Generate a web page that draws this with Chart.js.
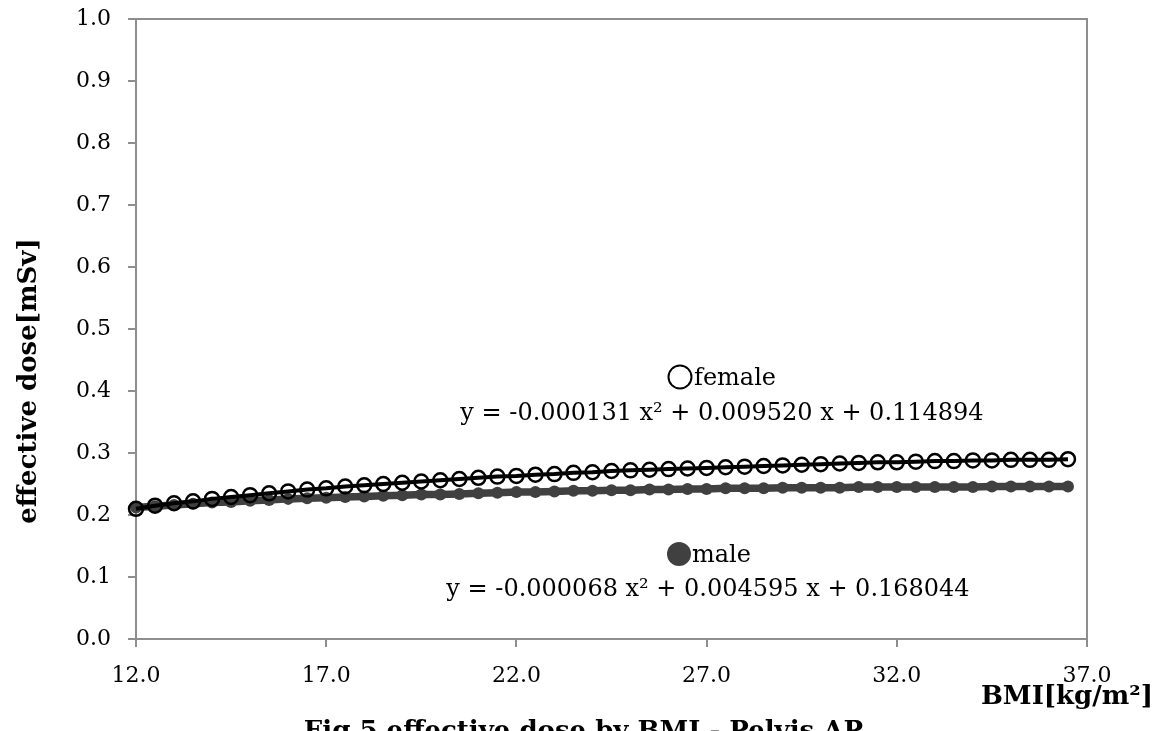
<!DOCTYPE html>
<html>
<head>
<meta charset="utf-8">
<script src="https://cdn.jsdelivr.net/npm/chart.js@4"></script>
<style>
  html, body { margin: 0; padding: 0; background: #fff; }
  #wrap { width: 1163px; height: 731px; }
</style>
</head>
<body>
<div id="wrap"><canvas id="doseChart" width="1163" height="731"></canvas></div>
<script>
// BMI values (x) and effective dose in mSv for each sex
const bmi = [12.0, 12.5, 13.0, 13.5, 14.0, 14.5, 15.0, 15.5, 16.0, 16.5,
             17.0, 17.5, 18.0, 18.5, 19.0, 19.5, 20.0, 20.5, 21.0, 21.5,
             22.0, 22.5, 23.0, 23.5, 24.0, 24.5, 25.0, 25.5, 26.0, 26.5,
             27.0, 27.5, 28.0, 28.5, 29.0, 29.5, 30.0, 30.5, 31.0, 31.5,
             32.0, 32.5, 33.0, 33.5, 34.0, 34.5, 35.0, 35.5, 36.0, 36.5];

const femaleDose = [0.210, 0.215, 0.219, 0.222, 0.226, 0.229, 0.232, 0.235, 0.238, 0.241,
                    0.243, 0.246, 0.248, 0.250, 0.252, 0.254, 0.256, 0.258, 0.260, 0.262,
                    0.263, 0.265, 0.266, 0.268, 0.269, 0.271, 0.272, 0.273, 0.274, 0.275,
                    0.276, 0.277, 0.278, 0.279, 0.280, 0.281, 0.282, 0.283, 0.284, 0.285,
                    0.285, 0.286, 0.287, 0.287, 0.288, 0.288, 0.289, 0.289, 0.289, 0.290];

const maleDose = [0.212, 0.214, 0.216, 0.218, 0.220, 0.221, 0.223, 0.224, 0.226, 0.227,
                  0.228, 0.229, 0.230, 0.231, 0.232, 0.233, 0.233, 0.234, 0.235, 0.236,
                  0.237, 0.237, 0.238, 0.239, 0.239, 0.240, 0.240, 0.241, 0.241, 0.242,
                  0.242, 0.243, 0.243, 0.243, 0.244, 0.244, 0.244, 0.244, 0.245, 0.245,
                  0.245, 0.245, 0.245, 0.245, 0.245, 0.246, 0.246, 0.246, 0.246, 0.246];

const femaleFit = 'y = -0.000131 x\u00B2 + 0.009520 x + 0.114894';
const maleFit = 'y = -0.000068 x\u00B2 + 0.004595 x + 0.168044';

const serif = '"DejaVu Serif", "Liberation Serif", serif';
const axisGray = '#8e8e8e';

const toPoints = vals => bmi.map((b, i) => ({ x: b, y: vals[i] }));

// frame around the plot area plus the free text (axis titles, legend, fit equations)
const decorations = {
    id: 'decorations',
    beforeDatasetsDraw(chart) {
        const { ctx, chartArea: a } = chart;
        ctx.save();
        ctx.strokeStyle = axisGray;
        ctx.lineWidth = 2;
        ctx.beginPath();
        ctx.moveTo(a.left, a.top);
        ctx.lineTo(a.right, a.top);
        ctx.lineTo(a.right, a.bottom);
        ctx.stroke();
        ctx.restore();
    },
    afterDraw(chart) {
        const { ctx } = chart;
        ctx.save();
        ctx.fillStyle = '#000';
        ctx.textBaseline = 'middle';

        // y axis title
        ctx.save();
        ctx.translate(29, 381);
        ctx.rotate(-Math.PI / 2);
        ctx.textAlign = 'center';
        ctx.font = 'bold 26px ' + serif;
        ctx.fillText('effective dose[mSv]', 0, 0);
        ctx.restore();

        // x axis title
        ctx.textAlign = 'right';
        ctx.font = 'bold 26px ' + serif;
        ctx.fillText('BMI[kg/m\u00B2]', 1153, 697);

        // caption, cut by the bottom edge
        ctx.textBaseline = 'alphabetic';
        ctx.fillText('Fig.5 effective dose by BMI - Pelvis AP', 863, 739);
        ctx.textBaseline = 'middle';

        // legend entries with markers
        ctx.font = '24px ' + serif;
        ctx.textAlign = 'left';
        ctx.lineWidth = 2;
        ctx.strokeStyle = '#000';
        ctx.beginPath();
        ctx.arc(680, 377, 11.5, 0, Math.PI * 2);
        ctx.stroke();
        ctx.fillText('female', 694, 379);

        ctx.fillStyle = '#404040';
        ctx.beginPath();
        ctx.arc(679, 554, 12, 0, Math.PI * 2);
        ctx.fill();
        ctx.fillStyle = '#000';
        ctx.fillText('male', 692, 556);

        // fitted curve equations
        ctx.textAlign = 'center';
        ctx.fillText(femaleFit, 722, 414);
        ctx.fillText(maleFit, 708, 590);
        ctx.restore();
    }
};

const ctx = document.getElementById('doseChart').getContext('2d');
new Chart(ctx, {
    type: 'scatter',
    data: {
        datasets: [
            {
                label: 'female',
                data: toPoints(femaleDose),
                showLine: true,
                borderColor: '#000000',
                borderWidth: 4,
                pointRadius: 7,
                pointBorderWidth: 2.5,
                pointBorderColor: '#000000',
                pointBackgroundColor: 'rgba(0,0,0,0)',
                clip: false,
                order: 1
            },
            {
                label: 'male',
                data: toPoints(maleDose),
                showLine: true,
                borderColor: '#404040',
                borderWidth: 7.5,
                pointRadius: 6,
                pointBorderWidth: 0,
                pointBackgroundColor: '#404040',
                clip: false,
                order: 2
            }
        ]
    },
    options: {
        responsive: false,
        animation: false,
        layout: { padding: { left: 0, right: 76, top: 19, bottom: 0 } },
        plugins: {
            legend: { display: false },
            tooltip: { enabled: false }
        },
        scales: {
            x: {
                type: 'linear',
                min: 12,
                max: 37,
                afterFit: s => { s.height = 92; s.paddingLeft = 0; s.paddingRight = 0; },
                ticks: {
                    stepSize: 5,
                    padding: 16,
                    color: '#000',
                    font: { family: serif, size: 22 },
                    callback: v => v.toFixed(1)
                },
                grid: { drawOnChartArea: false, tickLength: 8, color: axisGray, lineWidth: 2 },
                border: { color: axisGray, width: 2 }
            },
            y: {
                min: 0,
                max: 1,
                afterFit: s => { s.width = 136; s.paddingTop = 0; s.paddingBottom = 0; },
                ticks: {
                    stepSize: 0.1,
                    padding: 17,
                    color: '#000',
                    font: { family: serif, size: 22 },
                    callback: v => v.toFixed(1)
                },
                grid: { drawOnChartArea: false, tickLength: 8, color: axisGray, lineWidth: 2 },
                border: { color: axisGray, width: 2 }
            }
        }
    },
    plugins: [decorations]
});
</script>
</body>
</html>
